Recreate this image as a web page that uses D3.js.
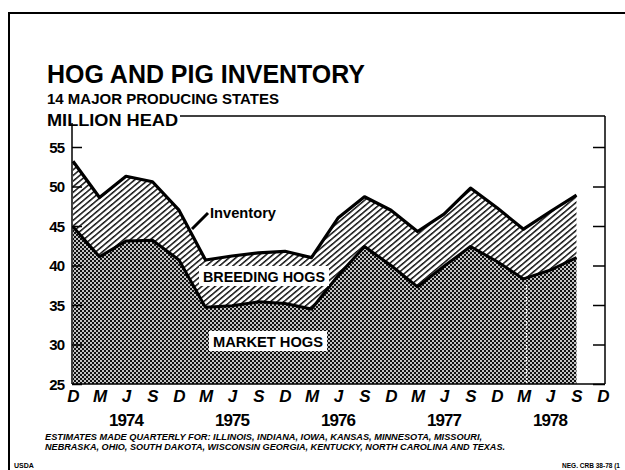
<!DOCTYPE html>
<html>
<head>
<meta charset="utf-8">
<script src="https://cdn.jsdelivr.net/npm/d3@7"></script>
<style>
  body { margin: 0; background: #fff; }
  svg text { font-family: "Liberation Sans", Arial, sans-serif; font-weight: bold; fill: #000; }
</style>
</head>
<body>
<script>
// quarterly estimates, Dec 1973 .. Sep 1978 (million head)
let quarters = ["1973-12", "1974-03", "1974-06", "1974-09", "1974-12", "1975-03", "1975-06",
    "1975-09", "1975-12", "1976-03", "1976-06", "1976-09", "1976-12", "1977-03", "1977-06",
    "1977-09", "1977-12", "1978-03", "1978-06", "1978-09", "1978-12"];
let monthLabels = ["D", "M", "J", "S", "D", "M", "J", "S", "D", "M", "J", "S", "D", "M", "J",
    "S", "D", "M", "J", "S", "D"];
let yearLabels = ["1974", "1975", "1976", "1977", "1978"];
let yearQuarters = ["1974-06", "1975-06", "1976-06", "1977-06", "1978-06"];
let inventory = [53.2, 48.6, 51.3, 50.6, 47.0, 40.7, 41.2, 41.6, 41.8, 41.0,
    46.0, 48.7, 47.0, 44.3, 46.5, 49.8, 47.3, 44.6, 46.8, 48.9];
let marketHogs = [44.9, 41.1, 43.1, 43.2, 40.7, 34.7, 34.9, 35.4, 35.2, 34.5,
    38.7, 42.4, 40.0, 37.3, 39.9, 42.4, 40.5, 38.3, 39.4, 41.0];
let yTicks = [25, 30, 35, 40, 45, 50, 55];
let footnote = ["ESTIMATES MADE QUARTERLY FOR: ILLINOIS, INDIANA, IOWA, KANSAS, MINNESOTA, MISSOURI,",
    "NEBRASKA, OHIO, SOUTH DAKOTA, WISCONSIN GEORGIA, KENTUCKY, NORTH CAROLINA AND TEXAS."];

let width = 625,
    height = 470;

let svg = d3.select("body").append("svg")
    .attr("width", width).attr("height", height);

let x = d3.scalePoint().domain(quarters).range([73, 603]);
let y = d3.scaleLinear().domain([25, 55]).range([384, 147]);

let data = inventory.map((v, i) => ({ q: quarters[i], inv: v, mkt: marketHogs[i] }));

// fill patterns
let defs = svg.append("defs");
let cross = defs.append("pattern").attr("id", "cross")
    .attr("width", 4).attr("height", 4).attr("patternUnits", "userSpaceOnUse");
cross.append("rect").attr("width", 4).attr("height", 4).attr("fill", "#111");
cross.append("circle").attr("cx", 1).attr("cy", 1).attr("r", 1).attr("fill", "#fff");
cross.append("circle").attr("cx", 3).attr("cy", 3).attr("r", 1).attr("fill", "#fff");

let hatch = defs.append("pattern").attr("id", "hatch")
    .attr("width", 8).attr("height", 4.3).attr("patternUnits", "userSpaceOnUse")
    .attr("patternTransform", "rotate(-40)");
hatch.append("rect").attr("width", 8).attr("height", 4.3).attr("fill", "#fff");
hatch.append("rect").attr("y", 0).attr("width", 8).attr("height", 1.5).attr("fill", "#111");

// outer border
svg.append("path").attr("d", "M9,470 L9,13 L625,13")
    .attr("fill", "none").attr("stroke", "#000").attr("stroke-width", 2);

// areas
let market = d3.area().x((d) => x(d.q)).y0(y(25)).y1((d) => y(d.mkt));
let breeding = d3.area().x((d) => x(d.q)).y0((d) => y(d.mkt)).y1((d) => y(d.inv));

svg.append("path").datum(data).attr("d", market).attr("fill", "url(#cross)");
svg.append("path").datum(data).attr("d", breeding).attr("fill", "url(#hatch)");

svg.append("path").datum(data)
    .attr("d", d3.line().x((d) => x(d.q)).y((d) => y(d.mkt)))
    .attr("fill", "none").attr("stroke", "#000").attr("stroke-width", 3).attr("stroke-linejoin", "round");
svg.append("path").datum(data)
    .attr("d", d3.line().x((d) => x(d.q)).y((d) => y(d.inv)))
    .attr("fill", "none").attr("stroke", "#000").attr("stroke-width", 3.2).attr("stroke-linejoin", "round");

// dotted break in the market area, spring 1978
svg.append("line")
    .attr("x1", x("1978-03") + 3).attr("x2", x("1978-03") + 3)
    .attr("y1", y(marketHogs[17]) + 6).attr("y2", y(25))
    .attr("stroke", "#fff").attr("stroke-width", 1.3).attr("stroke-dasharray", "1.5,1.5");

// axes
let yAxis = d3.axisLeft(y).tickValues(yTicks).tickSize(-10).tickPadding(8);
let gy = svg.append("g").attr("transform", "translate(72,0)").call(yAxis);
gy.select(".domain").remove();
gy.append("line").attr("x1", 0).attr("x2", 0).attr("y1", 123).attr("y2", y(25))
    .attr("stroke", "#000").attr("stroke-width", 1.5);
gy.selectAll(".tick line").attr("stroke-width", 1.5);
gy.selectAll(".tick text").style("font-size", "15px").attr("letter-spacing", "-1px")
    .attr("fill", "#000").attr("dy", "0.36em");

let yAxisR = d3.axisRight(y).tickValues(yTicks).tickSize(-12).tickFormat("");
let gr = svg.append("g").attr("transform", "translate(605,0)").call(yAxisR);
gr.select(".domain").remove();
gr.append("line").attr("x1", 0).attr("x2", 0).attr("y1", 116).attr("y2", y(25))
    .attr("stroke", "#000").attr("stroke-width", 1.5);
gr.selectAll(".tick line").attr("stroke-width", 1.5);

// frame top and bottom
svg.append("line").attr("x1", 180).attr("x2", 605).attr("y1", 116).attr("y2", 116)
    .attr("stroke", "#000").attr("stroke-width", 1.5);
svg.append("line").attr("x1", 72).attr("x2", 605).attr("y1", y(25)).attr("y2", y(25))
    .attr("stroke", "#000").attr("stroke-width", 1.5);

let xAxis = d3.axisBottom(x).tickSize(0).tickPadding(6)
    .tickFormat((d, i) => monthLabels[i]);
let gx = svg.append("g").attr("transform", "translate(0," + y(25) + ")").call(xAxis);
gx.select(".domain").remove();
gx.selectAll(".tick text").style("font-size", "17px").style("font-style", "italic").attr("fill", "#000");

svg.selectAll(".year").data(yearLabels).enter().append("text")
    .attr("class", "year")
    .attr("x", (d, i) => x(yearQuarters[i]))
    .attr("y", 426)
    .attr("text-anchor", "middle")
    .style("font-size", "17px")
    .attr("letter-spacing", "-1px")
    .text((d) => d);

// titles
svg.append("text").attr("x", 47).attr("y", 83).style("font-size", "25px")
    .attr("textLength", 318).attr("lengthAdjust", "spacingAndGlyphs")
    .text("HOG AND PIG INVENTORY");
svg.append("text").attr("x", 47).attr("y", 104).style("font-size", "15px")
    .text("14 MAJOR PRODUCING STATES");
svg.append("text").attr("x", 47).attr("y", 126).style("font-size", "16px")
    .attr("textLength", 131).attr("lengthAdjust", "spacingAndGlyphs")
    .text("MILLION HEAD");

// series labels
svg.append("line").attr("x1", 192).attr("y1", 229).attr("x2", 208).attr("y2", 213)
    .attr("stroke", "#000").attr("stroke-width", 3);
svg.append("text").attr("x", 210).attr("y", 218).style("font-size", "14px")
    .attr("textLength", 66).attr("lengthAdjust", "spacingAndGlyphs")
    .text("Inventory");

svg.append("rect").attr("x", 199).attr("y", 266).attr("width", 130).attr("height", 20).attr("fill", "#fff");
svg.append("text").attr("x", 203).attr("y", 282).style("font-size", "15px")
    .attr("textLength", 122).attr("lengthAdjust", "spacingAndGlyphs")
    .text("BREEDING HOGS");

svg.append("rect").attr("x", 209).attr("y", 331).attr("width", 118).attr("height", 20).attr("fill", "#fff");
svg.append("text").attr("x", 213).attr("y", 347).style("font-size", "15px")
    .attr("textLength", 110).attr("lengthAdjust", "spacingAndGlyphs")
    .text("MARKET HOGS");

// footnote
svg.selectAll(".note").data(footnote).enter().append("text")
    .attr("class", "note")
    .attr("x", 45)
    .attr("y", (d, i) => 440 + i * 10)
    .style("font-size", "9px").style("font-style", "italic")
    .attr("textLength", (d, i) => i == 0 ? 437 : 460).attr("lengthAdjust", "spacingAndGlyphs")
    .text((d) => d);

svg.append("text").attr("x", 14).attr("y", 468).style("font-size", "7px").text("USDA");
svg.append("text").attr("x", 562).attr("y", 468).style("font-size", "7px")
    .attr("textLength", 58).attr("lengthAdjust", "spacingAndGlyphs")
    .text("NEG. CRB 38-78 (1");
</script>
</body>
</html>
